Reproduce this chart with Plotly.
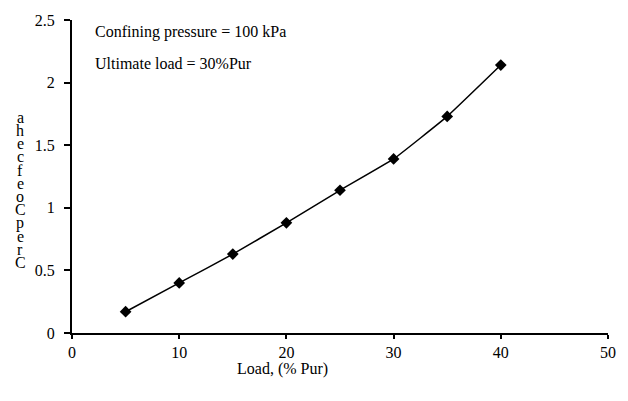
import plotly.graph_objects as go

load_pct = [5, 10, 15, 20, 25, 30, 35, 40]
creep = [0.17, 0.40, 0.63, 0.88, 1.14, 1.39, 1.73, 2.14]
x_ticks = [0, 10, 20, 30, 40, 50]
y_ticks = [0, 0.5, 1, 1.5, 2, 2.5]
y_ticks_text = ["0", "0.5", "1", "1.5", "2", "2.5"]
x_title = "Load, (% Pur)"
note_lines = ["Confining pressure = 100 kPa", "Ultimate load = 30%Pur"]
y_title_glyphs = ["a", "h", "e", "c", "f", "e", "o", "C", "p", "e", "r", "C"]

FONT = "Liberation Serif"

fig = go.Figure()
fig.add_trace(go.Scatter(
    x=load_pct, y=creep, mode="lines+markers",
    line=dict(color="black", width=1.5, shape="spline", smoothing=0.3),
    marker=dict(symbol="diamond", size=9, color="black"),
    showlegend=False,
))

W, H = 628, 401
ml, mr, mt, mb = 72, 19, 18, 68
pw, ph = W - ml - mr, H - mt - mb

annotations = []
for i, t in enumerate(note_lines):
    annotations.append(dict(
        text=t, xref="paper", yref="paper",
        x=(93 - ml) / pw, y=1 - ((30 + 32 * i) - mt) / ph,
        xanchor="left", yanchor="middle", showarrow=False,
        font=dict(family=FONT, size=16, color="black"),
    ))
annotations.append(dict(
    text=x_title, xref="paper", yref="paper",
    x=(283 - ml) / pw, y=1 - (369 - mt) / ph,
    xanchor="center", yanchor="middle", showarrow=False,
    font=dict(family=FONT, size=16, color="black"),
))
n = len(y_title_glyphs)
for i, g in enumerate(y_title_glyphs):
    py = 116 + i * (262 - 116) / (n - 1)
    annotations.append(dict(
        text=g, xref="paper", yref="paper",
        x=(20 - ml) / pw, y=1 - (py - mt) / ph,
        xanchor="center", yanchor="middle", showarrow=False,
        font=dict(family=FONT, size=16, color="black"),
    ))

fig.update_layout(
    width=W, height=H,
    margin=dict(l=ml, r=mr, t=mt, b=mb),
    paper_bgcolor="white", plot_bgcolor="white",
    font=dict(family=FONT, size=16, color="black"),
    annotations=annotations,
    xaxis=dict(
        range=[0, 50], tickvals=x_ticks, ticks="outside", ticklen=4,
        tickwidth=1.5, tickcolor="black", showline=True, linecolor="black",
        linewidth=2, showgrid=False, zeroline=False,
        tickfont=dict(family=FONT, size=16),
    ),
    yaxis=dict(
        range=[0, 2.5], tickvals=y_ticks, ticktext=y_ticks_text,
        ticks="outside", ticklen=6, tickwidth=1.5, tickcolor="black",
        showline=True, linecolor="black", linewidth=2, showgrid=False,
        zeroline=False, tickfont=dict(family=FONT, size=16),
        ticklabelstandoff=6,
    ),
)

fig.write_html("out.html")
